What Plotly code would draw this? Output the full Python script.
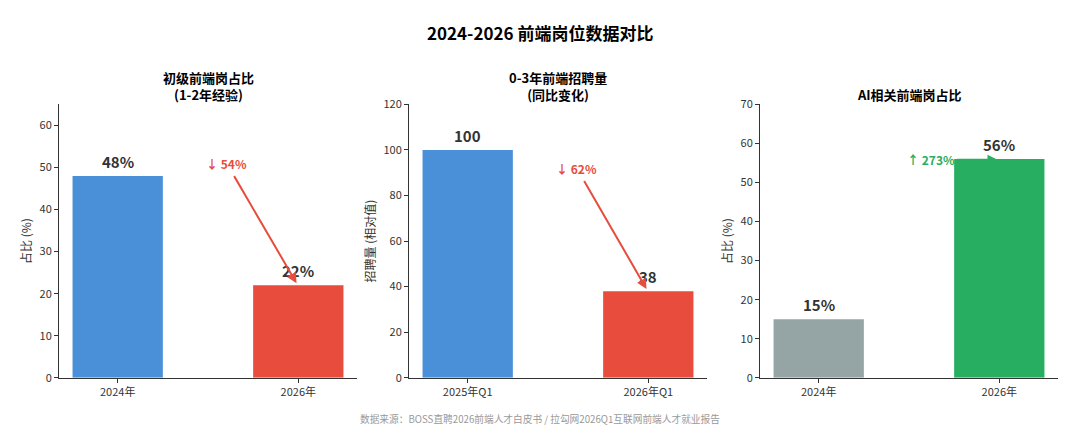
import plotly.graph_objects as go

# data
junior_cats = ["2024年", "2026年"]
junior_vals = [48, 22]

hiring_cats = ["2025年Q1", "2026年Q1"]
hiring_vals = [100, 38]

ai_cats = ["2024年", "2026年"]
ai_vals = [15, 56]

panel_titles = [["初级前端岗占比", "(1-2年经验)"], ["0-3年前端招聘量", "(同比变化)"], ["AI相关前端岗占比"]]
y_titles = ["占比 (%)", "招聘量 (相对值)", "占比 (%)"]
y_ranges = [[0, 65], [0, 120], [0, 70]]
y_ticks = [[0, 10, 20, 30, 40, 50, 60], [0, 20, 40, 60, 80, 100, 120], [0, 10, 20, 30, 40, 50, 60, 70]]

FONT = "Noto Sans CJK SC"
DARK = "#333333"
BLUE, RED, GREY, GREEN = "#4A90D9", "#E74C3C", "#95A5A6", "#27AE60"

W, H = 1080, 447


def py(px):
    # pixel row in the target picture -> paper y (the page comes out squeezed a bit vertically)
    return 1 - ((px - 7.4) / 0.9664) / H


# panel pixel boxes (left, right); shared top/bottom
x_boxes = [(59, 357), (409, 707), (760, 1058)]
y_top, y_bot = 103, 377

fig = go.Figure()

panels = [
    (junior_cats, junior_vals, [BLUE, RED], "%"),
    (hiring_cats, hiring_vals, [BLUE, RED], ""),
    (ai_cats, ai_vals, [GREY, GREEN], "%"),
]

layout = {}
annotations = []
for i, (cats, vals, cols, suffix) in enumerate(panels):
    n = "" if i == 0 else str(i + 1)
    xa, ya = "x" + n, "y" + n
    fig.add_trace(go.Bar(
        x=[0, 1], y=vals, width=0.5, marker=dict(color=cols, line=dict(width=0)),
        xaxis=xa, yaxis=ya, showlegend=False, hoverinfo="skip",
    ))
    x0, x1 = x_boxes[i]
    layout["xaxis" + n] = dict(
        domain=[x0 / W, x1 / W], anchor=ya, range=[-0.325, 1.325],
        tickvals=[0, 1], ticktext=cats, showline=True, linecolor=DARK, linewidth=1,
        ticks="outside", ticklen=4, tickcolor=DARK, showgrid=False, zeroline=False,
        tickfont=dict(size=11, color=DARK, family=FONT), fixedrange=True,
    )
    layout["yaxis" + n] = dict(
        domain=[py(y_bot), py(y_top)], anchor=xa, range=y_ranges[i],
        tickvals=y_ticks[i], showline=True, linecolor=DARK, linewidth=1,
        ticks="outside", ticklen=4, tickcolor=DARK, showgrid=False, zeroline=False,
        tickfont=dict(size=11, color=DARK, family=FONT),
        title=dict(text=y_titles[i], font=dict(size=12, color=DARK, family=FONT), standoff=5),
    )
    # panel title; last line sits just above the plot
    lines = panel_titles[i]
    annotations.append(dict(
        xref="paper", yref="paper", x=(x0 + x1) / 2 / W, y=py(93.5 - 8.5 * (len(lines) - 1)),
        xanchor="center", yanchor="middle", showarrow=False,
        text="<br>".join("<b>%s</b>" % s for s in lines),
        font=dict(size=13, color="black", family=FONT),
    ))
    # value labels
    for j, v in enumerate(vals):
        annotations.append(dict(
            xref=xa, yref=ya, x=j, y=v, yshift=2, yanchor="bottom", showarrow=False,
            text="<b>%d%s</b>" % (v, suffix), font=dict(size=15, color=DARK, family=FONT),
        ))

# change arrows
drop1 = round((junior_vals[0] - junior_vals[1]) / junior_vals[0] * 100)
drop2 = round((hiring_vals[0] - hiring_vals[1]) / hiring_vals[0] * 100)
rise3 = round((ai_vals[1] - ai_vals[0]) / ai_vals[0] * 100)

arrows = [
    ("x", "y", "↓ %d%%" % drop1, RED, (0.6, 51), (0.64, 48.3), (0.99, junior_vals[1] + 0.5)),
    ("x2", "y2", "↓ %d%%" % drop2, RED, (0.6, 92), (0.64, 87), (0.99, hiring_vals[1] + 1)),
    ("x3", "y3", "↑ %d%%" % rise3, GREEN, (0.62, 56), (0.76, ai_vals[1] - 0.2), (0.99, ai_vals[1] - 0.2)),
]
for xa, ya, txt, col, tpos, tail, tip in arrows:
    annotations.append(dict(
        xref=xa, yref=ya, x=tpos[0], y=tpos[1], showarrow=False, text="<b>%s</b>" % txt,
        font=dict(size=12, color=col, family=FONT),
    ))
    annotations.append(dict(
        xref=xa, yref=ya, x=tip[0], y=tip[1], axref=xa, ayref=ya, ax=tail[0], ay=tail[1],
        text="", showarrow=True, arrowhead=2, arrowsize=1, arrowwidth=2, arrowcolor=col,
    ))

# main title and source
annotations.append(dict(
    xref="paper", yref="paper", x=0.5, y=py(31), xanchor="center", yanchor="middle",
    showarrow=False, text="<b>2024-2026 前端岗位数据对比</b>",
    font=dict(size=17, color="black", family=FONT),
))
annotations.append(dict(
    xref="paper", yref="paper", x=0.5, y=py(418), xanchor="center", yanchor="middle",
    showarrow=False, text="数据来源：BOSS直聘2026前端人才白皮书 / 拉勾网2026Q1互联网前端人才就业报告",
    font=dict(size=9.7, color="#999999", family=FONT),
))

fig.update_layout(
    width=W, height=H, margin=dict(l=0, r=0, t=0, b=0),
    paper_bgcolor="white", plot_bgcolor="white",
    font=dict(family=FONT, color=DARK), annotations=annotations, **layout,
)

# page has a default body margin; drop it so the 1080-wide figure fills the window
fig.write_html(
    "out.html",
    config={"responsive": False, "displayModeBar": False},
    post_script="document.body.style.margin='0';document.documentElement.style.overflow='hidden';",
)
